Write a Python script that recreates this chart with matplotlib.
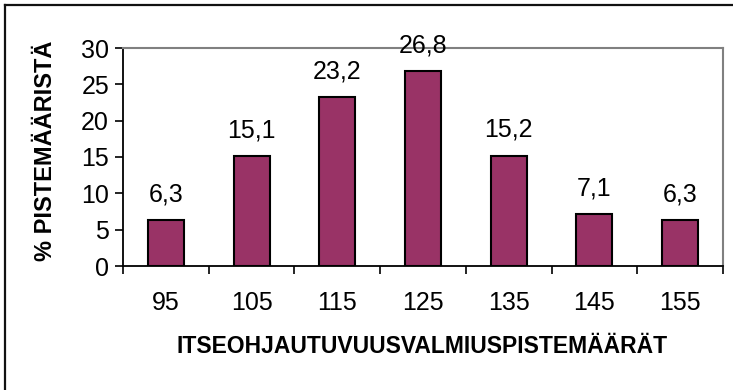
import matplotlib
matplotlib.use("Agg")
import matplotlib.pyplot as plt
from matplotlib.lines import Line2D

categories = ["95", "105", "115", "125", "135", "145", "155"]
values = [6.3, 15.1, 23.2, 26.8, 15.2, 7.1, 6.3]
y_ticks = [0, 5, 10, 15, 20, 25, 30]
x_title = "ITSEOHJAUTUVUUSVALMIUSPISTEMÄÄRÄT"
y_title = "% PISTEMÄÄRISTÄ"

plt.rcParams["font.family"] = ["Liberation Sans", "DejaVu Sans"]

W, H = 733, 390
fig = plt.figure(figsize=(W / 100, H / 100), dpi=100)
ax = fig.add_axes([123 / W, (H - 266) / H, 600 / W, 218 / H])

x = list(range(len(categories)))
ax.bar(x, values, width=0.42, color="#993366", edgecolor="black", linewidth=1.5, zorder=3)

for xi, v in zip(x, values):
    ax.annotate(f"{v:.1f}".replace(".", ","), (xi, v), xytext=(0, 18.5),
                textcoords="offset points", ha="center", va="center", fontsize=18)

ax.set_xlim(-0.5, len(categories) - 0.5)
ax.set_ylim(0, 30)
ax.set_yticks(y_ticks)
ax.set_yticklabels([str(t) for t in y_ticks])
ax.set_xticks(x)
ax.set_xticklabels(categories)
ax.set_xticks([i - 0.5 for i in range(len(categories) + 1)], minor=True)

ax.tick_params(axis="y", direction="out", length=6, width=1.2, labelsize=18, pad=4)
ax.tick_params(axis="x", which="major", length=0, labelsize=18, pad=18)
ax.tick_params(axis="x", which="minor", direction="out", length=6, width=1.2)

for side in ("left", "bottom"):
    ax.spines[side].set_color("black")
    ax.spines[side].set_linewidth(1.3)
for side in ("top", "right"):
    ax.spines[side].set_color("#808080")
    ax.spines[side].set_linewidth(1.5)

fig.text(422 / W, (H - 353) / H, x_title, ha="center", va="baseline",
         fontsize=16.5, fontweight="bold")
fig.text(46 / W, (H - 151) / H, y_title, ha="center", va="center",
         rotation=90, fontsize=17, fontweight="bold")

# outer chart frame (left and top edges)
fig.add_artist(Line2D([5 / W, 5 / W], [0, (H - 5) / H], color="#111111", linewidth=1.6,
                      transform=fig.transFigure))
fig.add_artist(Line2D([5 / W, 1], [(H - 5) / H, (H - 5) / H], color="#111111", linewidth=1.6,
                      transform=fig.transFigure))

fig.savefig("out.png", dpi=100)
